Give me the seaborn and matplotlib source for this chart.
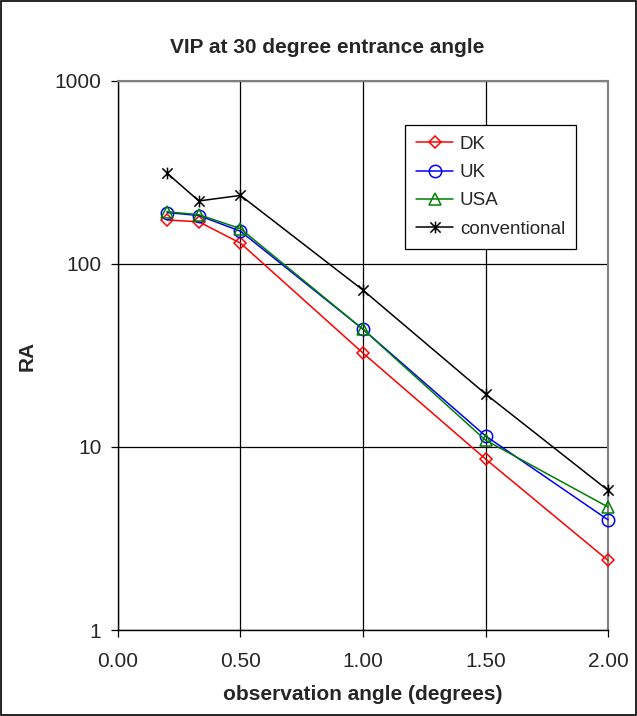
import pandas as pd
import matplotlib
matplotlib.use("Agg")
import matplotlib.pyplot as plt
import matplotlib.ticker as mticker
from matplotlib.path import Path
import seaborn as sns

angles = [0.2, 0.33, 0.5, 1.0, 1.5, 2.0]
dk = [174, 170, 130, 32.6, 8.6, 2.4]
uk = [191, 184, 151, 44, 11.5, 4.0]
usa = [193, 186, 156, 44, 10.9, 4.7]
conventional = [314, 221, 237, 72, 19.5, 5.8]

# Excel-style star: an X with a vertical bar through it
star = Path([(-1, -1), (1, 1), (-1, 1), (1, -1), (0, -1.15), (0, 1.15)],
            [Path.MOVETO, Path.LINETO, Path.MOVETO, Path.LINETO, Path.MOVETO, Path.LINETO])

series = [
    ("DK", dk, "#FF0000", "D", 5.8),
    ("UK", uk, "#0000FF", "o", 8.9),
    ("USA", usa, "#008000", "^", 8.4),
    ("conventional", conventional, "#000000", star, 8.5),
]

sns.set_style("white")
plt.rcParams["font.family"] = ["Liberation Sans", "DejaVu Sans"]

fig = plt.figure(figsize=(6.37, 7.16), dpi=100)
ax = fig.add_axes([0.1852, 0.1201, 0.7693, 0.7668])

for name, vals, color, marker, ms in series:
    df = pd.DataFrame({"angle": angles, "RA": vals})
    sns.lineplot(data=df, x="angle", y="RA", ax=ax, color=color, label=name,
                 marker=marker, markersize=ms, markerfacecolor="none",
                 markeredgecolor=color, markeredgewidth=1.1, linewidth=1.1,
                 clip_on=False, zorder=5)

ax.set_yscale("log")
ax.set_ylim(1, 1000)
ax.set_xlim(0, 2.0)
ax.set_xticks([0, 0.5, 1.0, 1.5, 2.0])
ax.xaxis.set_major_formatter(mticker.FormatStrFormatter("%.2f"))
ax.set_yticks([1, 10, 100, 1000])
ax.yaxis.set_major_formatter(mticker.FuncFormatter(lambda v, p: f"{v:g}"))
ax.yaxis.set_minor_locator(mticker.NullLocator())
ax.grid(True, which="major", color="black", linewidth=0.9)
ax.tick_params(axis="both", which="major", direction="out", length=5,
               width=0.9, color="black", labelsize=15, left=True, bottom=True)
ax.tick_params(axis="x", pad=11)
ax.tick_params(axis="y", pad=7)

for side in ["left", "bottom"]:
    ax.spines[side].set_color("black")
    ax.spines[side].set_linewidth(1.0)
for side in ["top", "right"]:
    ax.spines[side].set_color("#808080")
    ax.spines[side].set_linewidth(1.5)

fig.text(0.513, 0.934, "VIP at 30 degree entrance angle", fontsize=15,
         fontweight="bold", ha="center", va="center")
ax.set_xlabel("observation angle (degrees)", fontsize=15, fontweight="bold")
ax.xaxis.set_label_coords(0.5, -0.100)
ax.set_ylabel("RA", fontsize=15, fontweight="bold")
ax.yaxis.set_label_coords(-0.165, 0.5)

leg = ax.legend(loc="upper left", bbox_to_anchor=(0.586, 0.920), fontsize=13.5,
                frameon=True, fancybox=False, edgecolor="black", framealpha=1,
                borderpad=0.57, labelspacing=0.6, handlelength=2.0,
                handletextpad=0.35, borderaxespad=0)
leg.get_frame().set_linewidth(0.9)

fig.patches.append(plt.Rectangle((0.002, 0.002), 0.996, 0.996, transform=fig.transFigure,
                                 fill=False, edgecolor="black", linewidth=1.2))

fig.savefig("out.png", dpi=100)
